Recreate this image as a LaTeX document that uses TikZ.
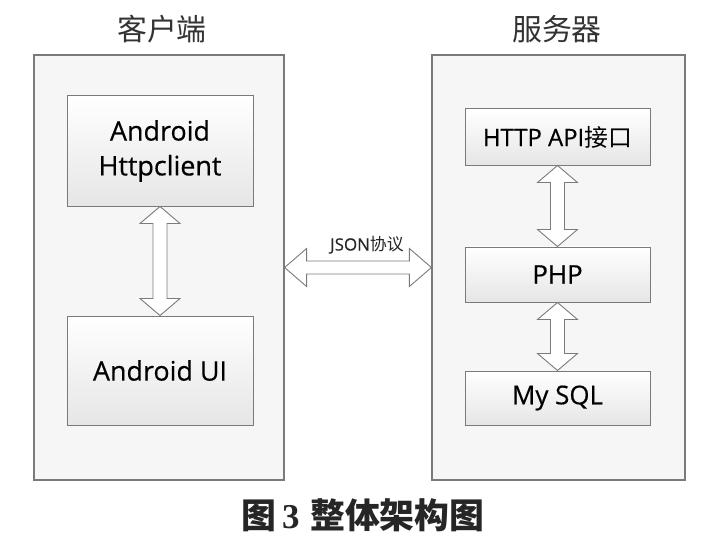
\documentclass[tikz,border=0pt]{standalone}
\usepackage{fontspec}
\usetikzlibrary{calc}
\newfontfamily\uifont{Open Sans}[FakeBold=0.4]
\newfontfamily\cjk{Noto Sans CJK SC}
\newfontfamily\capserif{Liberation Serif}
\definecolor{edgegray}{HTML}{7A7A7A}
\definecolor{outerfill}{HTML}{F6F6F6}
\tikzset{
  outerbox/.style={draw=edgegray, line width=1.2pt, fill=outerfill, minimum width=#1, inner sep=0pt},
  innerbox/.style={draw=edgegray, line width=1pt, top color=white, bottom color=black!10, inner sep=0pt, align=center, font=\uifont\fontsize{27}{31}\selectfont, text=black},
  blockarrow/.style={draw=edgegray, line width=0.9pt, fill=white, line join=miter},
  titletext/.style={font=\cjk\fontsize{30}{33}\selectfont, text=black!80},
}
\newcommand\vdarrow[2]{%
  \draw[blockarrow] let \p1=(#1.south), \p2=(#2.north) in
    (\x1,\y1) -- (\x1+20bp,\y1-17bp) -- (\x1+7bp,\y1-17bp) -- (\x1+7bp,\y2+17bp)
    -- (\x1+20bp,\y2+17bp) -- (\x1,\y2) -- (\x1-20bp,\y2+17bp) -- (\x1-7bp,\y2+17bp)
    -- (\x1-7bp,\y1-17bp) -- (\x1-20bp,\y1-17bp) -- cycle;}
\begin{document}
\begin{tikzpicture}[x=1bp,y=-1bp]
\useasboundingbox[fill=white] (0,0) rectangle (727,540);
% outer boxes
\node[outerbox=250bp, minimum height=425bp] (client) at (159,267.5) {};
\node[outerbox=253bp, minimum height=425bp] (server) at (558.5,267.5) {};
% titles
\node[titletext] (tclient) at (162,29) {客户端};
\node[titletext] (tserver) at (557,29) {服务器};
% client inner boxes
\node[innerbox, minimum width=186bp, minimum height=110bp] (hc) at (160,151) {Android\\[4pt]Httpclient};
\node[innerbox, minimum width=186bp, minimum height=109bp] (ui) at (160,370.5) {Android UI};
% server inner boxes
\node[innerbox, minimum width=185bp, minimum height=56bp, font=\uifont\fontsize{24}{28}\selectfont] (api) at (557.5,137) {HTTP API{\cjk 接口}};
\node[innerbox, minimum width=185bp, minimum height=55bp, font=\uifont\fontsize{26}{30}\selectfont] (php) at (557.5,274.5) {PHP};
\node[innerbox, minimum width=185bp, minimum height=54bp, font=\uifont\fontsize{26}{30}\selectfont] (sql) at (557.5,398) {My SQL};
% vertical arrows
\vdarrow{hc}{ui}
\vdarrow{api}{php}
\vdarrow{php}{sql}
% horizontal arrow
\draw[blockarrow] let \p1=(client.east), \p2=(server.west) in
  (\x1,\y1) -- (\x1+22bp,\y1+19bp) -- (\x1+22bp,\y1+6.5bp) -- (\x2-22bp,\y1+6.5bp)
  -- (\x2-22bp,\y1+19bp) -- (\x2,\y1) -- (\x2-22bp,\y1-19bp) -- (\x2-22bp,\y1-6.5bp)
  -- (\x1+22bp,\y1-6.5bp) -- (\x1+22bp,\y1-19bp) -- cycle;
\node[font=\uifont\fontsize{17}{19}\selectfont, text=black!85] (json) at (367,245) {JSON{\cjk 协议}};
% caption
\node[font=\fontsize{35}{38}\selectfont, text=black!85] (cap) at (363,515) {{\cjk\bfseries 图}{\capserif\bfseries\,3} {\cjk\bfseries 整体架构图}};
\end{tikzpicture}
\end{document}
